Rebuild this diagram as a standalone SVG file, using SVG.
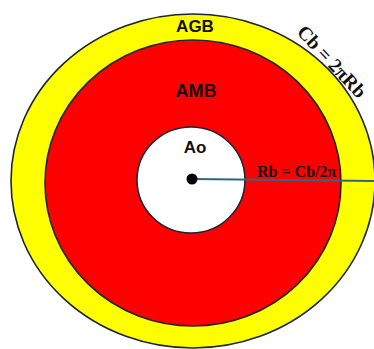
<svg xmlns="http://www.w3.org/2000/svg" width="374" height="349" viewBox="0 0 374 349">
<style>
.ring{stroke:#1c2633;stroke-width:1.6}
.lbl{font-family:"Liberation Sans",Arial,sans-serif;font-weight:bold;fill:#111;text-anchor:middle}
.math{font-family:"Liberation Serif","Times New Roman",serif;font-weight:bold;fill:#111}
</style>
<rect width="374" height="349" fill="#fff"/>
<g id="AGB">
<ellipse class="ring" cx="193" cy="181" rx="182" ry="167" fill="#ffff00"/>
<text class="lbl" x="195" y="32" font-size="17">AGB</text>
</g>
<g id="AMB">
<ellipse class="ring" cx="193" cy="183" rx="148" ry="143" fill="#ff0000"/>
<text class="lbl" x="196" y="97" font-size="18">AMB</text>
</g>
<g id="Ao">
<ellipse class="ring" cx="191" cy="180" rx="54" ry="53" fill="#ffffff"/>
<text class="lbl" x="195" y="153" font-size="17">Ao</text>
</g>
<g id="connectors">
<line x1="192" y1="179" x2="374" y2="181" stroke="#2f6685" stroke-width="2"/>
</g>
<circle id="center" cx="192" cy="179" r="5.5" fill="#000"/>
<text class="math" x="257" y="177" font-size="16">Rb = Cb/2π</text>
<text class="math" font-size="19.5" text-anchor="middle" transform="translate(327,66) rotate(47)">Cb = 2πRb</text>
</svg>
